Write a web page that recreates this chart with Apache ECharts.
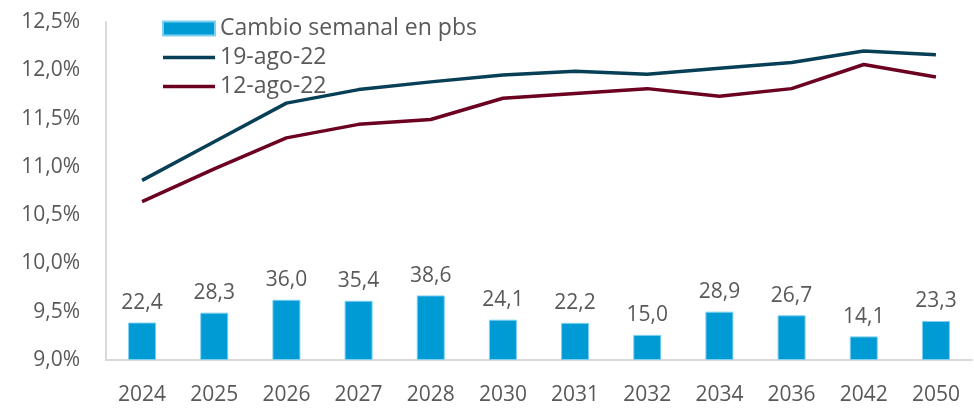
<!DOCTYPE html>
<html>
<head>
<meta charset="utf-8">
<script src="https://cdn.jsdelivr.net/npm/echarts@6/dist/echarts.min.js"></script>
<style>
  html, body { margin: 0; padding: 0; background: #fff; }
  #chart { width: 974px; height: 411px; }
</style>
</head>
<body>
<div id="chart"></div>
<script>
// categorías (años)
const years = ['2024', '2025', '2026', '2027', '2028', '2030', '2031', '2032', '2034', '2036', '2042', '2050']
// cambio semanal en pbs
const cambio = [22.4, 28.3, 36.0, 35.4, 38.6, 24.1, 22.2, 15.0, 28.9, 26.7, 14.1, 23.3]
// curvas (%)
const curva19 = [10.86, 11.26, 11.66, 11.80, 11.88, 11.95, 11.99, 11.96, 12.02, 12.08, 12.20, 12.16]
const curva12 = [10.64, 10.98, 11.30, 11.44, 11.49, 11.71, 11.76, 11.81, 11.73, 11.81, 12.06, 11.93]

const fontFam = '"Open Sans", Lato, sans-serif'
const gris = '#595959'
const azulBarra = '#009ad4'
const azulLinea = '#073f56'
const rojoLinea = '#6b0020'
const lineaIcon = 'path://M0,0 L52,0 L52,3.5 L0,3.5 Z'

const chart = echarts.init(document.getElementById('chart'))

const option = {
  animation: false,
  textStyle: { fontFamily: fontFam },
  legend: {
    orient: 'vertical',
    left: 157,
    top: 11,
    itemWidth: 52,
    itemHeight: 14,
    itemGap: 4,
    textStyle: { color: gris, fontSize: 23, lineHeight: 25, fontFamily: fontFam },
    data: [
      { name: 'Cambio semanal en pbs', icon: 'rect' },
      { name: '19-ago-22', icon: lineaIcon },
      { name: '12-ago-22', icon: lineaIcon }
    ]
  },
  grid: { left: 106, right: 2, top: 22, bottom: 51 },
  xAxis: {
    type: 'category',
    data: years,
    axisLine: { lineStyle: { color: '#d9d9d9', width: 2 } },
    axisTick: { show: false },
    axisLabel: { color: gris, fontSize: 21, margin: 25 }
  },
  yAxis: [
    {
      type: 'value',
      min: 9,
      max: 12.5,
      interval: 0.5,
      axisLine: { show: true, lineStyle: { color: '#d9d9d9', width: 2 } },
      axisTick: { show: false },
      splitLine: { show: false },
      axisLabel: {
        color: gris,
        fontSize: 21,
        margin: 26,
        formatter: v => v.toFixed(1).replace('.', ',') + '%'
      }
    },
    {
      type: 'value',
      min: 0,
      max: 202,
      show: false,
      splitLine: { show: false }
    }
  ],
  series: [
    {
      name: 'Cambio semanal en pbs',
      type: 'bar',
      yAxisIndex: 1,
      data: cambio,
      barWidth: 28,
      itemStyle: { color: azulBarra, borderColor: '#7fd0ee', borderWidth: 1 },
      label: {
        show: true,
        position: 'top',
        distance: 9,
        color: gris,
        fontSize: 21,
        formatter: p => p.value.toFixed(1).replace('.', ',')
      }
    },
    {
      name: '19-ago-22',
      type: 'line',
      data: curva19,
      symbol: 'none',
      lineStyle: { color: azulLinea, width: 3.5 },
      itemStyle: { color: azulLinea }
    },
    {
      name: '12-ago-22',
      type: 'line',
      data: curva12,
      symbol: 'none',
      lineStyle: { color: rojoLinea, width: 3.5 },
      itemStyle: { color: rojoLinea }
    }
  ]
}

chart.setOption(option)
</script>
</body>
</html>
